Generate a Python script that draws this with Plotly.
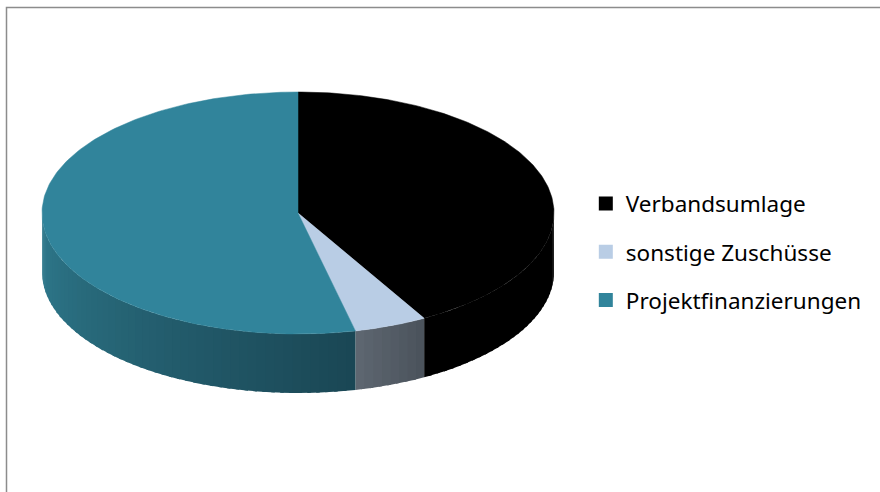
import numpy as np
import plotly.graph_objects as go

# ---- data ----
labels = ["Verbandsumlage", "sonstige Zuschüsse", "Projektfinanzierungen"]
values = [41.8, 4.6, 53.6]

# ---- style ----
top_colors = ["#000000", "#B9CDE5", "#31849B"]
side_light = ["#000000", "#5E6771", "#2F7B8E"]
side_dark = ["#000000", "#4A525B", "#1A4654"]

W, H = 880, 492
CX, CY, RX, RY, DEPTH = 298, 213, 256, 121, 59


def pts(t0, t1, n, dz=0.0):
    t = np.radians(np.linspace(t0, t1, n))
    return CX + RX * np.sin(t), CY - RY * np.cos(t) + dz


def mix(c1, c2, f):
    a = [int(c1[i:i + 2], 16) for i in (1, 3, 5)]
    b = [int(c2[i:i + 2], 16) for i in (1, 3, 5)]
    return "#%02x%02x%02x" % tuple(int(round(a[k] + (b[k] - a[k]) * f)) for k in range(3))


total = float(sum(values))
bounds = np.concatenate([[0.0], np.cumsum(values) / total * 360.0])

fig = go.Figure()

# side walls (front half: 90..270 deg clockwise from 12 o'clock)
for i in range(len(values)):
    a0, a1 = max(bounds[i], 90.0), min(bounds[i + 1], 270.0)
    if a1 <= a0:
        continue
    nstrip = max(2, int((a1 - a0) / 2))
    edges = np.linspace(a0, a1, nstrip + 1)
    for k in range(nstrip):
        s0 = edges[k]
        s1 = min(edges[k + 1] + 0.8, a1) if k < nstrip - 1 else edges[k + 1]
        xt, yt = pts(s0, s1, 6)
        xb, yb = pts(s1, s0, 6, DEPTH)
        f = 1.0 - (k + 0.5) / nstrip
        col = mix(side_light[i], side_dark[i], f)
        fig.add_trace(go.Scatter(
            x=np.concatenate([xt, xb, xt[:1]]),
            y=np.concatenate([yt, yb, yt[:1]]),
            mode="lines", fill="toself", fillcolor=col,
            line=dict(color=col, width=0),
            hoverinfo="skip", showlegend=False))

# top face slices
for i in range(len(values)):
    xa, ya = pts(bounds[i], bounds[i + 1], 200)
    fig.add_trace(go.Scatter(
        x=np.concatenate([[CX], xa, [CX]]),
        y=np.concatenate([[CY], ya, [CY]]),
        mode="lines", fill="toself", fillcolor=top_colors[i],
        line=dict(color=top_colors[i], width=0.5),
        name=labels[i], hoverinfo="name+text",
        text=["%.1f%%" % (values[i] / total * 100)] * 202,
        showlegend=False))

# legend entries
for i in range(len(values)):
    fig.add_trace(go.Scatter(
        x=[None], y=[None], mode="markers", name=labels[i],
        legendgroup=labels[i],
        marker=dict(symbol="square", size=14, color=top_colors[i]),
        showlegend=True))

fig.update_layout(
    width=W, height=H,
    margin=dict(l=0, r=0, t=0, b=0),
    paper_bgcolor="white", plot_bgcolor="white",
    xaxis=dict(range=[0, W], visible=False, fixedrange=True),
    yaxis=dict(range=[H, 0], visible=False, fixedrange=True),
    legend=dict(x=0.6657, y=0.488, xanchor="left", yanchor="middle",
                font=dict(family="Noto Sans", size=22.5, color="#000000"),
                traceorder="grouped", tracegroupgap=16,
                bgcolor="rgba(0,0,0,0)"),
    shapes=[dict(type="rect", xref="paper", yref="paper",
                 x0=6.5 / W, x1=1.05, y0=-0.05, y1=1 - 7.5 / H,
                 line=dict(color="#8C8C8C", width=1.5))],
)

fig.write_html("out.html",
               config={"displayModeBar": False},
               post_script="document.body.style.margin='0';document.body.style.overflow='hidden';")
